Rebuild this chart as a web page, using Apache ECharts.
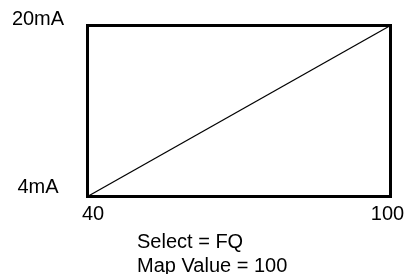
<!DOCTYPE html>
<html>
<head>
<meta charset="UTF-8">
<title>mA map</title>
<script src="https://cdn.jsdelivr.net/npm/echarts@6/dist/echarts.min.js"></script>
<style>
  html, body { margin: 0; padding: 0; background: #fff; }
  #main { width: 406px; height: 274px; }
</style>
</head>
<body>
<div id="main"></div>
<script>
// scale ends and the mapped line
var xTicks = [40, 100];
var yTicks = [4, 20];
var yUnit = 'mA';
var lineX = [40, 100];
var lineY = [4, 20];
var selectValue = 'FQ';
var mapValue = 100;

var FONT = 'Liberation Sans';

var lineData = lineX.map(function (x, i) { return [x, lineY[i]]; });

var chart = echarts.init(document.getElementById('main'), null, { renderer: 'canvas' });

var option = {
  animation: false,
  backgroundColor: '#fff',
  title: {
    text: 'Select = ' + selectValue + '\nMap Value = ' + mapValue,
    left: 132,
    top: 225,
    textStyle: {
      fontFamily: FONT,
      fontSize: 20,
      fontWeight: 'normal',
      color: '#000',
      lineHeight: 24
    }
  },
  grid: {
    show: true,
    left: 87.5,
    right: 15.5,
    top: 25.5,
    bottom: 77.5,
    outerBoundsMode: 'none',
    containLabel: false,
    borderColor: '#000',
    borderWidth: 3,
    backgroundColor: 'transparent'
  },
  xAxis: {
    type: 'value',
    min: xTicks[0],
    max: xTicks[xTicks.length - 1],
    axisLine: { show: false },
    axisTick: { show: false },
    splitLine: { show: false },
    axisLabel: {
      showMinLabel: true,
      showMaxLabel: true,
      margin: 8,
      fontFamily: FONT,
      fontSize: 20,
      color: '#000',
      formatter: function (v) {
        if (v === xTicks[0]) return '{lo|' + v + '}';
        if (v === xTicks[xTicks.length - 1]) return '{hi|' + v + '}';
        return '';
      },
      rich: {
        lo: { fontFamily: FONT, fontSize: 20, color: '#000', padding: [0, 0, 0, 11] },
        hi: { fontFamily: FONT, fontSize: 20, color: '#000', padding: [0, 6, 0, 0] }
      }
    }
  },
  yAxis: {
    type: 'value',
    min: yTicks[0],
    max: yTicks[yTicks.length - 1],
    axisLine: { show: false },
    axisTick: { show: false },
    splitLine: { show: false },
    axisLabel: {
      showMinLabel: true,
      showMaxLabel: true,
      align: 'center',
      verticalAlign: 'middle',
      margin: 49.5,
      fontFamily: FONT,
      fontSize: 20,
      color: '#000',
      formatter: function (v) {
        if (v === yTicks[0]) return '{lo|' + v + yUnit + '}';
        if (v === yTicks[yTicks.length - 1]) return '{hi|' + v + yUnit + '}';
        return '';
      },
      rich: {
        lo: { fontFamily: FONT, fontSize: 20, color: '#000', padding: [0, 0, 19, 0] },
        hi: { fontFamily: FONT, fontSize: 20, color: '#000', padding: [0, 0, 13, 0] }
      }
    }
  },
  series: [
    {
      type: 'line',
      data: lineData,
      showSymbol: false,
      symbol: 'none',
      lineStyle: { color: '#000', width: 1.2 },
      silent: true
    }
  ]
};

chart.setOption(option);
</script>
</body>
</html>
